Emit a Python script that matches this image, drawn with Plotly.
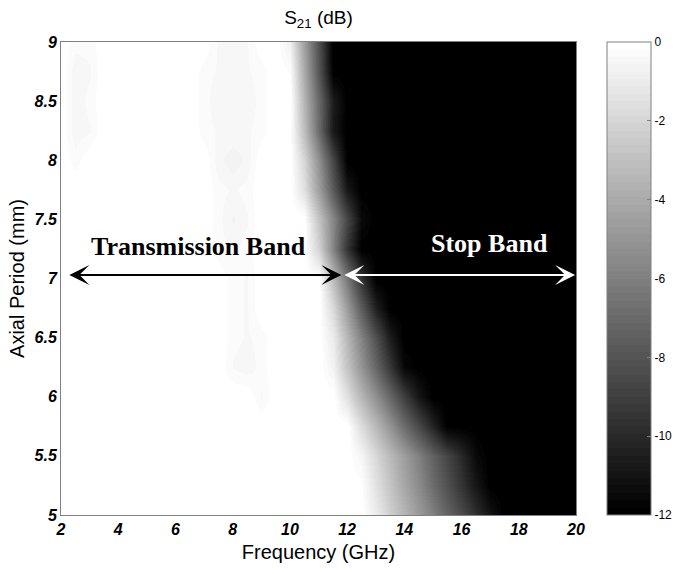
import plotly.graph_objects as go

# Frequency samples (GHz) and axial period samples (mm)
freq_ghz = [2.0, 2.5, 3.0, 3.5, 4.0, 4.5, 5.0, 5.5, 6.0, 6.5, 7.0, 7.5, 8.0, 8.5, 9.0,
            9.5, 10.0, 10.5, 11.0, 11.5, 12.0, 12.5, 13.0, 13.5, 14.0, 14.5, 15.0,
            15.5, 16.0, 16.5, 17.0, 17.5, 18.0, 18.5, 19.0, 19.5, 20.0]
period_mm = [5.0, 5.25, 5.5, 5.75, 6.0, 6.25, 6.5, 6.75, 7.0, 7.25, 7.5, 7.75,
             8.0, 8.25, 8.5, 8.75, 9.0]

# S21 (dB) rows, one per axial period (black region clipped at -12)
s21_p500 = [0, 0, 0, 0, 0, 0, 0, 0, 0, 0, 0, 0, 0, 0, 0, 0, 0, 0, 0, 0, 0, 0,
            -1.0, -2.3, -3.5, -4.8, -6.0, -7.3, -8.5, -9.8, -11.0, -12, -12, -12, -12, -12, -12]
s21_p525 = [0, 0, 0, 0, 0, 0, 0, 0, 0, 0, 0, 0, 0, 0, 0, 0, 0, 0, 0, 0, 0,
            -0.1, -1.5, -2.8, -4.2, -5.5, -6.9, -8.2, -9.6, -10.9, -12, -12, -12, -12, -12, -12, -12]
s21_p550 = [0, 0, 0, 0, 0, 0, 0, 0, 0, 0, 0, 0, 0, 0, 0, 0, 0, 0, 0, 0, 0,
            -0.5, -1.9, -3.3, -4.6, -6.0, -7.4, -8.7, -10.1, -11.5, -12, -12, -12, -12, -12, -12, -12]
s21_p575 = [0, 0, 0, 0, 0, 0, 0, 0, 0, 0, 0, 0, 0, 0, 0, 0, 0, 0, 0, 0, 0,
            -1.7, -3.4, -5.1, -6.9, -8.6, -10.3, -12, -12, -12, -12, -12, -12, -12, -12, -12, -12]
s21_p600 = [0, 0, 0, 0, 0, 0, 0, 0, 0, 0, 0, 0, 0, 0, -0.4, 0, 0, 0, 0, 0,
            -1.5, -3.4, -5.3, -7.1, -9.0, -10.9, -12, -12, -12, -12, -12, -12, -12, -12, -12, -12, -12]
s21_p625 = [0, 0, 0, 0, 0, 0, 0, 0, 0, 0, 0, 0, -0.4, -0.5, -0.3, 0, 0, 0, 0,
            -0.7, -2.8, -5.0, -7.2, -9.4, -11.6, -12, -12, -12, -12, -12, -12, -12, -12, -12, -12, -12, -12]
s21_p650 = [0, 0, 0, 0, 0, 0, 0, 0, 0, 0, 0, 0, -0.3, -0.4, -0.3, 0, 0, 0, 0,
            -1.0, -3.4, -5.8, -8.2, -10.6, -12, -12, -12, -12, -12, -12, -12, -12, -12, -12, -12, -12, -12]
s21_p675 = [0, 0, 0, 0, 0, 0, 0, 0, 0, 0, 0, 0, -0.3, -0.4, 0, 0, 0, 0, 0,
            -1.8, -4.7, -7.6, -10.5, -12, -12, -12, -12, -12, -12, -12, -12, -12, -12, -12, -12, -12, -12]
s21_p700 = [0, 0, 0, 0, 0, 0, 0, 0, 0, 0, 0, 0, -0.3, -0.4, 0, 0, 0, 0, 0,
            -3.2, -6.3, -9.5, -12, -12, -12, -12, -12, -12, -12, -12, -12, -12, -12, -12, -12, -12, -12]
s21_p725 = [0, 0, 0, 0, 0, 0, 0, 0, 0, 0, 0, -0.3, -0.4, -0.3, 0, 0, 0, 0,
            -2.2, -5.8, -9.5, -12, -12, -12, -12, -12, -12, -12, -12, -12, -12, -12, -12, -12, -12, -12, -12]
s21_p750 = [0, 0, 0, 0, 0, 0, 0, 0, 0, 0, 0, -0.3, -0.6, -0.4, 0, 0, 0, 0,
            -2.9, -5.7, -8.6, -11.4, -12, -12, -12, -12, -12, -12, -12, -12, -12, -12, -12, -12, -12, -12, -12]
s21_p775 = [0, 0, 0, 0, 0, 0, 0, 0, 0, 0, 0, -0.3, -0.4, -0.3, 0, 0, 0,
            -1.5, -4.6, -7.7, -10.8, -12, -12, -12, -12, -12, -12, -12, -12, -12, -12, -12, -12, -12, -12, -12, -12]
s21_p800 = [0, -0.3, 0, 0, 0, 0, 0, 0, 0, 0, 0, -0.5, -0.7, -0.5, 0, 0, 0,
            -2.0, -5.3, -8.7, -12, -12, -12, -12, -12, -12, -12, -12, -12, -12, -12, -12, -12, -12, -12, -12, -12]
s21_p825 = [0, -0.5, -0.4, 0, 0, 0, 0, 0, 0, 0, -0.3, -0.4, -0.4, -0.4, -0.3, 0, 0,
            -3.1, -7.0, -10.8, -12, -12, -12, -12, -12, -12, -12, -12, -12, -12, -12, -12, -12, -12, -12, -12, -12]
s21_p850 = [0, -0.5, -0.3, 0, 0, 0, 0, 0, 0, 0, -0.3, -0.5, -0.5, -0.5, -0.3, 0, 0,
            -3.5, -7.1, -10.6, -12, -12, -12, -12, -12, -12, -12, -12, -12, -12, -12, -12, -12, -12, -12, -12, -12]
s21_p875 = [0, -0.5, -0.4, 0, 0, 0, 0, 0, 0, 0, -0.3, -0.4, -0.4, -0.4, -0.3, 0,
            -0.2, -4.0, -8.0, -12, -12, -12, -12, -12, -12, -12, -12, -12, -12, -12, -12, -12, -12, -12, -12, -12, -12]
s21_p900 = [0, -0.3, -0.3, 0, 0, 0, 0, 0, 0, 0, 0, -0.4, -0.4, -0.4, 0, 0,
            -0.8, -4.5, -8.3, -12, -12, -12, -12, -12, -12, -12, -12, -12, -12, -12, -12, -12, -12, -12, -12, -12, -12]

s21_rows = [s21_p500, s21_p525, s21_p550, s21_p575, s21_p600, s21_p625, s21_p650,
            s21_p675, s21_p700, s21_p725, s21_p750, s21_p775, s21_p800, s21_p825,
            s21_p850, s21_p875, s21_p900]

cbar_ticks = [0, -2, -4, -6, -8, -10, -12]
x_ticks = [2, 4, 6, 8, 10, 12, 14, 16, 18, 20]
y_ticks = [5, 5.5, 6, 6.5, 7, 7.5, 8, 8.5, 9]

# MATLAB-like 64-level gray colormap (stepped)
n_levels = 64
gray_scale = []
for i in range(n_levels):
    v = round(255 * i / (n_levels - 1))
    c = f"rgb({v},{v},{v})"
    gray_scale.append([i / n_levels, c])
    gray_scale.append([(i + 1) / n_levels, c])

fig = go.Figure()
fig.add_trace(go.Heatmap(
    x=freq_ghz, y=period_mm, z=s21_rows,
    zmin=-12, zmax=0, zsmooth="best",
    colorscale=gray_scale,
    colorbar=dict(
        thickness=44, thicknessmode="pixels",
        len=1, lenmode="fraction", y=0.5, yanchor="middle", ypad=0,
        x=1.0602, xanchor="left", xpad=0,
        outlinewidth=1, outlinecolor="#808080",
        tickvals=cbar_ticks, ticktext=[str(t) for t in cbar_ticks],
        ticks="inside", ticklen=4, tickcolor="#808080",
        tickfont=dict(family="Liberation Sans", size=12, color="black"),
    ),
    hoverinfo="skip",
))

axis_font = dict(family="Liberation Sans", size=16, color="black", weight="bold", style="italic")

fig.update_xaxes(
    range=[2, 20], tickvals=x_ticks, ticktext=[str(t) for t in x_ticks],
    showline=True, linecolor="#808080", linewidth=1, mirror=True,
    ticks="", showgrid=False, zeroline=False, tickfont=axis_font,
    title=dict(text="Frequency (GHz)", font=dict(family="Liberation Sans", size=20, color="black"),
               standoff=7),
)
fig.update_yaxes(
    range=[5, 9], tickvals=y_ticks, ticktext=[f"{t:g}" for t in y_ticks],
    showline=True, linecolor="#808080", linewidth=1, mirror=True,
    ticks="", showgrid=False, zeroline=False, tickfont=axis_font,
    title=dict(text="Axial Period (mm)", font=dict(family="Liberation Sans", size=20, color="black"),
               standoff=4),
)

annots = [
    dict(x=6.79, y=7.27, xref="x", yref="y", text="<b>Transmission Band</b>", showarrow=False,
         font=dict(family="Liberation Serif", size=26, color="black")),
    dict(x=16.97, y=7.30, xref="x", yref="y", text="<b>Stop Band</b>", showarrow=False,
         font=dict(family="Liberation Serif", size=26, color="white")),
    dict(x=11.8, y=7.03, ax=2.24, ay=7.03, xref="x", yref="y", axref="x", ayref="y",
         text="", showarrow=True, arrowside="end+start", arrowhead=3, startarrowhead=3,
         arrowsize=1.67, startarrowsize=1.67, arrowwidth=2, arrowcolor="black"),
    dict(x=19.97, y=7.03, ax=11.85, ay=7.03, xref="x", yref="y", axref="x", ayref="y",
         text="", showarrow=True, arrowside="end+start", arrowhead=3, startarrowhead=3,
         arrowsize=1.67, startarrowsize=1.67, arrowwidth=2, arrowcolor="white"),
]

fig.update_layout(
    width=675, height=570,
    margin=dict(l=61, r=99, t=42, b=55, autoexpand=False),
    paper_bgcolor="white", plot_bgcolor="white",
    font=dict(family="Liberation Sans", color="black"),
    title=dict(text="S<sub>21</sub> (dB)", x=0.5, xref="paper", xanchor="center",
               y=1 - 17 / 570, yref="container", yanchor="middle",
               font=dict(family="Liberation Sans", size=19, color="black")),
    annotations=annots,
)

fig.write_html("out.html")
